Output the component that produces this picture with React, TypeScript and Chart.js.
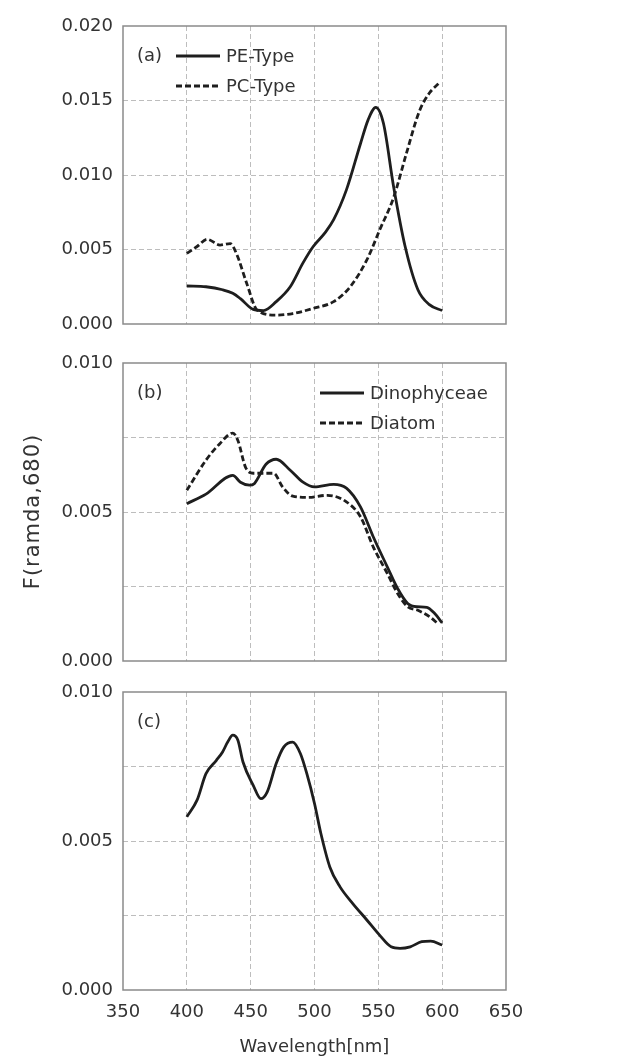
import React, { useEffect, useRef } from 'react';
import { Chart, registerables } from 'chart.js';

Chart.register(...registerables);

// ---------- Data ----------
const xTickValues = [350, 400, 450, 500, 550, 600, 650];

// (a)
const peTypeX = [400, 415, 428, 436, 442, 452, 460, 470, 481, 491, 499, 508, 515, 525, 536, 542, 548, 554, 562, 571, 581, 590, 600];
const peTypeY = [0.00255, 0.0025, 0.0023, 0.00206, 0.0017, 0.00098, 0.0009, 0.0015, 0.0025, 0.0041, 0.0052, 0.0061, 0.0070, 0.0090, 0.0121, 0.0137, 0.01454, 0.01347, 0.0092, 0.0052, 0.0023, 0.0013, 0.0009];
const pcTypeX = [400, 408, 416, 426, 434, 439, 447, 455, 470, 483, 499, 515, 528, 541, 551, 562, 572, 582, 590, 598];
const pcTypeY = [0.00474, 0.0052, 0.00568, 0.0053, 0.0054, 0.0047, 0.0027, 0.00094, 0.0006, 0.0007, 0.00105, 0.0015, 0.0025, 0.0043, 0.0063, 0.0085, 0.01145, 0.01425, 0.0155, 0.0162];

// (b)
const dinoX = [400, 415, 436, 442, 449, 453, 462, 470, 481, 491, 500, 515, 525, 536, 546, 557, 565, 573, 580, 588, 594, 600];
const dinoY = [0.00528, 0.0056, 0.00623, 0.0060, 0.0059, 0.00596, 0.0066, 0.00677, 0.0064, 0.0060, 0.00584, 0.00593, 0.0058, 0.00517, 0.00417, 0.00316, 0.00244, 0.00193, 0.00182, 0.0018, 0.0016, 0.00128];
const diatomX = [400, 415, 426, 436, 440, 446, 452, 462, 468, 475, 483, 495, 510, 525, 536, 546, 557, 565, 573, 581, 590, 597];
const diatomY = [0.00573, 0.00674, 0.0073, 0.00765, 0.0074, 0.0065, 0.0063, 0.0063, 0.0063, 0.00584, 0.00553, 0.00549, 0.00556, 0.00534, 0.00484, 0.00383, 0.00294, 0.00227, 0.00182, 0.0017, 0.00149, 0.00124];

// (c)
const panelCX = [400, 408, 415, 423, 428, 432, 436, 440, 444, 452, 458, 463, 470, 476, 483, 489, 494, 500, 505, 512, 520, 530, 541, 551, 560, 567, 575, 584, 591, 600];
const panelCY = [0.00581, 0.00637, 0.00726, 0.0077, 0.00799, 0.00832, 0.00855, 0.00838, 0.00765, 0.00687, 0.00642, 0.00665, 0.0076, 0.00816, 0.00832, 0.00793, 0.00726, 0.00626, 0.00525, 0.00413, 0.00346, 0.0029, 0.00235, 0.00184, 0.00145, 0.0014, 0.00145, 0.00162, 0.00164, 0.00151];

const FONT = 'DejaVu Sans';
const TEXT = '#333333';

type Series = { label: string; x: number[]; y: number[]; dashed: boolean };
type Panel = {
  tag: string;
  top: number;
  height: number;
  padTop: number;
  padBottom: number;
  yMax: number;
  yStep: number;
  labelStep: number;
  showX: boolean;
  xHeight: number;
  legendX: number;
  yTitle: boolean;
  series: Series[];
};

const panels: Panel[] = [
  {
    tag: '(a)', top: 0, height: 340, padTop: 26, padBottom: 16, yMax: 0.02, yStep: 0.005, labelStep: 0.005,
    showX: false, xHeight: 0, legendX: 53, yTitle: false,
    series: [
      { label: 'PE-Type', x: peTypeX, y: peTypeY, dashed: false },
      { label: 'PC-Type', x: pcTypeX, y: pcTypeY, dashed: true },
    ],
  },
  {
    tag: '(b)', top: 340, height: 340, padTop: 23, padBottom: 19, yMax: 0.01, yStep: 0.0025, labelStep: 0.005,
    showX: false, xHeight: 0, legendX: 197, yTitle: true,
    series: [
      { label: 'Dinophyceae', x: dinoX, y: dinoY, dashed: false },
      { label: 'Diatom', x: diatomX, y: diatomY, dashed: true },
    ],
  },
  {
    tag: '(c)', top: 680, height: 380, padTop: 12, padBottom: 0, yMax: 0.01, yStep: 0.0025, labelStep: 0.005,
    showX: true, xHeight: 70, legendX: 0, yTitle: false,
    series: [{ label: '', x: panelCX, y: panelCY, dashed: false }],
  },
];

const LINE_DASH = [6, 3];

function makePlugin(panel: Panel) {
  return {
    id: 'panelDecor' + panel.tag.replace(/[()]/g, ''),
    afterDraw(chart: any) {
      const { ctx, chartArea } = chart;
      const { left, top, right, bottom } = chartArea;
      ctx.save();
      // frame
      ctx.strokeStyle = '#8a8a8a';
      ctx.lineWidth = 1.5;
      ctx.setLineDash([]);
      ctx.strokeRect(left, top, right - left, bottom - top);
      // panel tag
      ctx.fillStyle = TEXT;
      ctx.font = `18px "${FONT}"`;
      ctx.textBaseline = 'middle';
      ctx.textAlign = 'left';
      ctx.fillText(panel.tag, left + 14, top + 30);
      // legend
      if (panel.series.length > 1) {
        panel.series.forEach((s, i) => {
          const y = top + 30 + i * 30;
          ctx.strokeStyle = '#1e1e1e';
          ctx.lineWidth = 2.8;
          ctx.setLineDash(s.dashed ? LINE_DASH : []);
          ctx.beginPath();
          ctx.moveTo(left + panel.legendX, y);
          ctx.lineTo(left + panel.legendX + 44, y);
          ctx.stroke();
          ctx.setLineDash([]);
          ctx.fillStyle = TEXT;
          ctx.fillText(s.label, left + panel.legendX + 50, y + 1);
        });
      }
      // y title
      if (panel.yTitle) {
        ctx.save();
        ctx.translate(34, (top + bottom) / 2);
        ctx.rotate(-Math.PI / 2);
        ctx.textAlign = 'center';
        ctx.textBaseline = 'middle';
        ctx.fillStyle = TEXT;
        ctx.font = `21px "${FONT}"`;
        (ctx as any).letterSpacing = '1px';
        ctx.fillText('F(ramda,680)', 0.5, 0);
        ctx.restore();
      }
      ctx.restore();
    },
  };
}

function makeChart(canvas: HTMLCanvasElement, panel: Panel) {
  const gridColorX = (c: any) => {
    const v = c.tick ? c.tick.value : null;
    return v === 350 || v === 650 ? 'rgba(0,0,0,0)' : '#bdbdbd';
  };
  const gridColorY = (c: any) => {
    const v = c.tick ? c.tick.value : null;
    return v === null || Math.abs(v) < 1e-9 || Math.abs(v - panel.yMax) < 1e-9 ? 'rgba(0,0,0,0)' : '#bdbdbd';
  };
  return new Chart(canvas, {
    type: 'line',
    data: {
      datasets: panel.series.map((s) => ({
        label: s.label,
        data: s.x.map((x, i) => ({ x, y: s.y[i] })),
        borderColor: '#1e1e1e',
        borderWidth: 2.8,
        borderDash: s.dashed ? LINE_DASH : [],
        pointRadius: 0,
        fill: false,
        cubicInterpolationMode: 'monotone' as const,
      })),
    },
    options: {
      responsive: false,
      maintainAspectRatio: false,
      animation: false,
      layout: { padding: { top: panel.padTop, bottom: panel.padBottom, left: 0, right: 130 } },
      plugins: { legend: { display: false }, tooltip: { enabled: false } },
      scales: {
        x: {
          type: 'linear',
          min: 350,
          max: 650,
          afterBuildTicks: (scale: any) => {
            scale.ticks = xTickValues.map((v) => ({ value: v }));
          },
          ticks: {
            display: panel.showX,
            color: TEXT,
            font: { family: FONT, size: 18 },
            padding: 12,
            maxRotation: 0,
            autoSkip: false,
          },
          grid: { color: gridColorX, lineWidth: 1, drawTicks: false },
          border: { display: false, dash: [5, 3] },
          title: {
            display: panel.showX,
            text: 'Wavelength[nm]',
            color: TEXT,
            font: { family: FONT, size: 18 },
            padding: { top: 0, bottom: 2 },
          },
          afterFit: (scale: any) => {
            scale.height = panel.xHeight;
            scale.paddingLeft = 0;
            scale.paddingRight = 0;
          },
        },
        y: {
          type: 'linear',
          min: 0,
          max: panel.yMax,
          ticks: {
            stepSize: panel.yStep,
            autoSkip: false,
            color: TEXT,
            font: { family: FONT, size: 18 },
            padding: 10,
            callback: (v: any) => {
              const r = v / panel.labelStep;
              return Math.abs(r - Math.round(r)) < 1e-6 ? Number(v).toFixed(3) : '';
            },
          },
          grid: { color: gridColorY, lineWidth: 1, drawTicks: false },
          border: { display: false, dash: [5, 3] },
          afterFit: (scale: any) => {
            scale.width = 123;
            scale.paddingTop = 0;
            scale.paddingBottom = 0;
          },
        },
      },
    },
    plugins: [makePlugin(panel)],
  } as any);
}

function PanelChart({ panel }: { panel: Panel }) {
  const ref = useRef<HTMLCanvasElement | null>(null);
  useEffect(() => {
    if (!ref.current) return;
    const chart = makeChart(ref.current, panel);
    return () => chart.destroy();
  }, [panel]);
  return (
    <canvas
      ref={ref}
      width={636}
      height={panel.height}
      style={{ position: 'absolute', left: 0, top: panel.top, width: 636, height: panel.height, display: 'block' }}
    />
  );
}

export default function App() {
  Chart.defaults.font.family = FONT;
  return (
    <div style={{ position: 'absolute', left: 0, top: 0, width: 636, height: 1060, background: '#ffffff', overflow: 'hidden' }}>
      {panels.map((p) => (
        <PanelChart key={p.tag} panel={p} />
      ))}
    </div>
  );
}
